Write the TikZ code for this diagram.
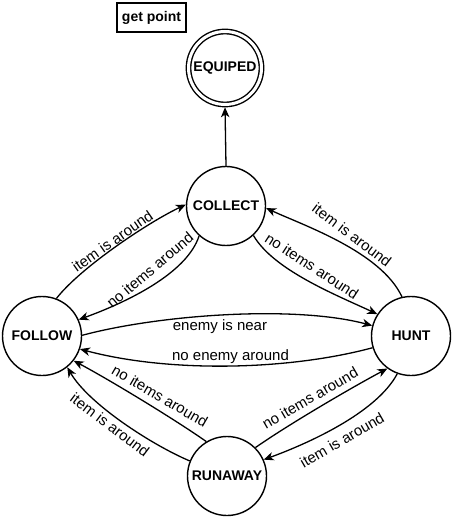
\documentclass[tikz,border=0pt]{standalone}
\usepackage{fontspec}
\setmainfont{Liberation Sans}
\usetikzlibrary{arrows.meta}
\begin{document}
\begin{tikzpicture}[x=1pt,y=1pt,
  state/.style={circle, draw, line width=1.4pt, minimum size=79pt, inner sep=0pt, font=\fontsize{14}{16}\selectfont\bfseries},
  edge/.style={line width=1.3pt, -{Stealth[length=10pt,width=8.5pt,inset=3pt]}},
  lbl/.style={font=\fontsize{15}{17}\selectfont, inner sep=1pt}]
\useasboundingbox (0,0) rectangle (453,-518);
\node[draw, line width=1.4pt, minimum width=69pt, minimum height=29pt, inner sep=0pt, font=\fontsize{14}{16}\selectfont\bfseries] (getpoint) at (151.5,-17.5) {get point};
\node[state, double, double distance=3pt, minimum size=73pt, outer sep=2.8pt] (equiped) at (225,-68) {EQUIPED};
\node[state] (collect) at (226,-206) {COLLECT};
\node[state] (follow) at (42,-336) {FOLLOW};
\node[state] (hunt) at (411,-336) {HUNT};
\node[state] (runaway) at (227,-476) {RUNAWAY};
% connectors
\draw[edge] (collect.north) -- (equiped.south);
\draw[edge] (follow.69) .. controls +(52:40) and +(205:40) .. (collect.178);
\draw[edge] (collect.228) .. controls +(252:40) and +(20:50) .. (follow.24);
\draw[edge] (collect.313) .. controls +(300:40) and +(155:45) .. (hunt.147);
\draw[edge] (hunt.103) .. controls +(115:50) and +(335:40) .. (collect.-3);
\draw[edge] (follow.1) .. controls +(15:80) and +(165:80) .. (hunt.165);
\draw[edge] (hunt.197) .. controls +(195:90) and +(345:90) .. (follow.-19);
\draw[edge] (runaway.121) .. controls +(145:40) and +(-28:40) .. (follow.-38);
\draw[edge] (runaway.158) .. controls +(157:42) and +(-60:42) .. (follow.-51);
\draw[edge] (runaway.45) .. controls +(35:40) and +(208:40) .. (hunt.234);
\draw[edge] (hunt.250) .. controls +(242:45) and +(20:45) .. (runaway.24);
% connector labels
\node[lbl, rotate=35] (l2) at (112.5,-241) {item is around};
\node[lbl, rotate=40] (l3) at (150,-270) {no items around};
\node[lbl, rotate=-33] (l4) at (312,-266) {no items around};
\node[lbl, rotate=-37] (l5) at (352,-235) {item is around};
\node[lbl] (l6) at (220,-327) {enemy is near};
\node[lbl] (l7) at (230.5,-356.5) {no enemy around};
\node[lbl, rotate=-30] (l8) at (160,-396) {no items around};
\node[lbl, rotate=-37] (l9) at (110,-425) {item is around};
\node[lbl, rotate=30] (l10) at (310,-398) {no items around};
\node[lbl, rotate=30] (l11) at (342,-440) {item is around};
\end{tikzpicture}
\end{document}
